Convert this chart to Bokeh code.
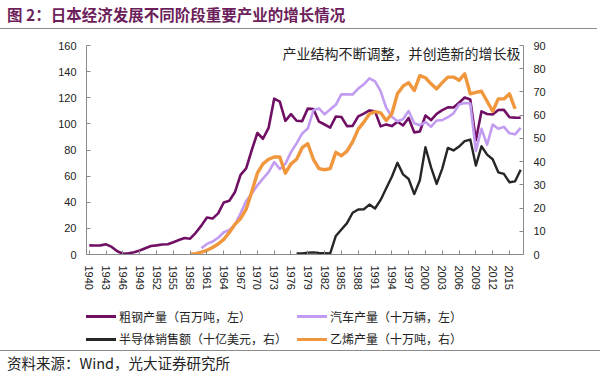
from bokeh.plotting import figure
from bokeh.models import Range1d, LinearAxis, FixedTicker, Label, Div
from bokeh.layouts import column
from bokeh.embed import file_html
from bokeh.resources import INLINE

# ---- data ----
steel_years = list(range(1940, 2018))
steel = [7.0, 6.9, 7.0, 7.8, 5.8, 2.5, 0.6, 1.0, 1.7, 3.1,
         4.8, 6.5, 7.0, 7.7, 7.8, 9.4, 11.1, 12.6, 12.1, 16.6,
         22.1, 28.3, 27.5, 31.5, 39.8, 41.2, 47.8, 61.0, 66.0, 80.0,
         93.0, 88.6, 96.9, 119.3, 117.1, 102.3, 107.4, 102.4, 102.1, 111.7,
         111.4, 101.7, 99.5, 97.2, 105.6, 105.3, 98.3, 98.5, 105.7, 107.9,
         110.3, 109.6, 98.1, 99.6, 98.3, 101.6, 98.8, 104.5, 93.5, 94.2,
         106.4, 102.9, 107.7, 110.5, 112.7, 112.5, 116.2, 120.2, 118.7, 87.5,
         109.6, 107.6, 107.2, 110.6, 110.7, 105.1, 104.8, 104.7]

car_years = list(range(1960, 2018))
car = [4.8, 8.1, 9.9, 12.8, 17.0, 18.8, 22.9, 31.5, 40.9, 46.7,
       52.9, 58.1, 63.0, 70.8, 65.5, 69.4, 78.4, 85.1, 92.7, 96.4,
       110.4, 111.8, 107.3, 111.1, 114.6, 122.7, 122.6, 122.5, 127.0, 130.3,
       134.9, 132.5, 125.0, 112.3, 105.5, 102.0, 103.5, 109.8, 100.5, 99.0,
       101.4, 97.8, 102.6, 102.9, 105.1, 108.0, 114.8, 116.0, 115.6, 79.3,
       96.3, 84.0, 99.4, 96.3, 97.7, 92.8, 92.0, 96.9]

semi_years = list(range(1977, 2018))
semi = [0.4, 0.5, 0.8,
        0.9, 0.7, 0.6, 0.5, 8.0, 10.8, 13.5, 18.0, 19.4, 19.5,
        21.5, 19.8, 23.5, 28.5, 33.5, 39.5, 34.5, 32.5, 26.0, 32.0,
        46.2, 37.5, 30.4, 37.0, 45.9, 44.8, 46.5, 48.8, 49.5, 38.3,
        46.6, 43.0, 41.0, 35.4, 34.7, 31.1, 31.5, 36.5]

eth_years = list(range(1958, 2017))
eth = [0.1, 0.4,
       1.0, 1.8, 3.0, 4.5, 6.5, 9.5, 13.0, 15.5, 19.5, 27.0,
       35.0, 39.0, 41.0, 42.0, 42.0, 35.0, 39.0, 41.0, 46.0, 47.7,
       41.0, 37.0, 36.5, 37.0, 44.0, 42.5, 44.5, 48.5, 54.0, 57.0,
       60.5, 61.5, 61.0, 57.7, 60.6, 69.2, 72.5, 74.0, 70.6, 77.0,
       76.1, 73.5, 71.3, 74.0, 76.4, 76.4, 75.0, 77.8, 69.2, 69.8,
       70.3, 66.0, 61.7, 67.0, 67.0, 69.2, 62.7]

x_ticks = list(range(1940, 2016, 3))
left_ticks = list(range(0, 161, 20))
right_ticks = list(range(0, 91, 10))

series_names = ["粗钢产量（百万吨，左）", "汽车产量（十万辆，左）",
                "半导体销售额（十亿美元，右）", "乙烯产量（十万吨，右）"]
title_text = "图 2：日本经济发展不同阶段重要产业的增长情况"
note_text = "产业结构不断调整，并创造新的增长极"
source_text = "资料来源：Wind，光大证券研究所"

C_STEEL = "#700f64"
C_CAR = "#c19cf0"
C_SEMI = "#262626"
C_ETH = "#f0963c"
series_colors = [C_STEEL, C_CAR, C_SEMI, C_ETH]
AXIS_C = "#8a8a8a"
CJK = "Noto Sans CJK SC"

# ---- figure ----
p = figure(width=600, height=267, output_backend="svg", toolbar_location=None,
           x_range=Range1d(1939.5, 2017.5), y_range=Range1d(0, 160),
           min_border_left=86, min_border_right=77, min_border_top=16,
           min_border_bottom=42)
p.extra_y_ranges = {"right": Range1d(0, 90)}
p.outline_line_color = None
p.grid.visible = False

p.line(steel_years, steel, line_color=C_STEEL, line_width=2.6, line_join="round")
p.line(car_years, car, line_color=C_CAR, line_width=2.6, line_join="round")
p.line(semi_years, semi, line_color=C_SEMI, line_width=2.4, line_join="round",
       y_range_name="right")
p.line(eth_years, eth, line_color=C_ETH, line_width=3.4, line_join="round",
       y_range_name="right")

right_axis = LinearAxis(y_range_name="right")
p.add_layout(right_axis, "right")

for ax in [p.xaxis[0], p.yaxis[0], right_axis]:
    ax.axis_line_color = AXIS_C
    ax.major_tick_line_color = AXIS_C
    ax.major_tick_in = 4
    ax.major_tick_out = 0
    ax.minor_tick_line_color = None
    ax.major_label_text_font = "Liberation Sans"
    ax.major_label_text_font_size = "11px"
    ax.major_label_text_color = "#222222"
    ax.major_label_standoff = 10

p.xaxis[0].ticker = FixedTicker(ticks=x_ticks)
p.xaxis[0].major_label_orientation = "vertical"
p.xaxis[0].major_label_standoff = 11
p.yaxis[0].ticker = FixedTicker(ticks=left_ticks)
right_axis.ticker = FixedTicker(ticks=right_ticks)

note = Label(x=434, y=202, x_units="screen", y_units="screen", text=note_text,
             text_align="right", text_baseline="middle", text_font=CJK,
             text_font_size="14px", text_color="#222222")
p.add_layout(note)

# ---- legend (HTML, two columns) ----
legend_pos = [(86, 20.7), (297, 20.7), (86, 43.0), (297, 43.0)]
legend_order = [0, 1, 2, 3]
parts = ['<div style="position:relative;width:600px;height:54px;">']
for k, (lx, ly) in zip(legend_order, legend_pos):
    parts.append('<span style="position:absolute;left:%dpx;top:%.1fpx;width:30px;'
                 'height:3px;background:%s;"></span>' % (lx, ly - 1.5, series_colors[k]))
    parts.append('<span style="position:absolute;left:%dpx;top:%.1fpx;line-height:16px;'
                 'white-space:nowrap;">%s</span>' % (lx + 33, ly - 8, series_names[k]))
parts.append('</div>')
legend_div = Div(text="".join(parts), width=600, height=54, margin=(0, 0, 0, 0),
                 styles={"font-family": CJK, "font-size": "12px", "color": "#222222",
                         "background": "white"})

title_div = Div(text=title_text, width=597, height=29, margin=(0, 0, 0, 0),
                styles={"font-family": CJK, "font-weight": "bold", "font-size": "15.5px",
                        "color": "#6d1f5c", "border-bottom": "1px solid #8c8c8c",
                        "box-sizing": "border-box", "padding-left": "7px",
                        "line-height": "28px", "background": "white"})
source_div = Div(text=source_text, width=600, height=25, margin=(0, 0, 0, 0),
                 styles={"font-family": CJK, "font-size": "14.5px", "color": "#222222",
                         "border-top": "1px solid #8c8c8c", "box-sizing": "border-box",
                         "padding-left": "7px", "line-height": "24px",
                         "background": "white"})

layout = column(title_div, p, legend_div, source_div, spacing=0)
open("out.html", "w").write(file_html(layout, INLINE))
